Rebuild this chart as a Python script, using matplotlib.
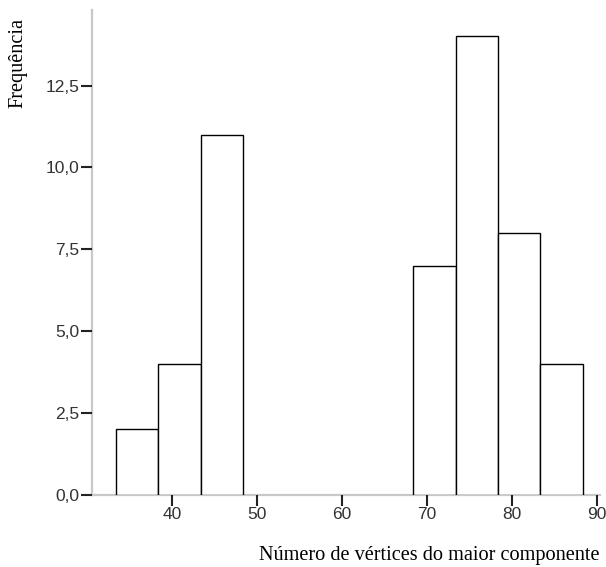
import matplotlib
matplotlib.use("Agg")
import matplotlib.pyplot as plt
from matplotlib.ticker import FuncFormatter

bin_edges = [33.4, 38.4, 43.4, 48.4, 53.4, 58.4, 63.4, 68.4, 73.4, 78.4, 83.4, 88.4]
counts = [2, 4, 11, 0, 0, 0, 0, 7, 14, 8, 4]
x_ticks = [40, 50, 60, 70, 80, 90]
y_ticks = [0.0, 2.5, 5.0, 7.5, 10.0, 12.5]

fig = plt.figure(figsize=(6.06, 5.67), dpi=100)
ax = fig.add_axes([0.152, 0.127, 0.838, 0.855])

lefts, widths, heights = [], [], []
for a, b, c in zip(bin_edges[:-1], bin_edges[1:], counts):
    if c > 0:
        lefts.append(a)
        widths.append(b - a)
        heights.append(c)
ax.bar(lefts, heights, width=widths, align="edge", facecolor="white",
       edgecolor="black", linewidth=1.0, zorder=2)

ax.set_xlim(30.6, 90.4)
ax.set_ylim(0, 14.8)
ax.set_xticks(x_ticks)
ax.set_yticks(y_ticks)
ax.yaxis.set_major_formatter(FuncFormatter(lambda v, p: f"{v:.1f}".replace(".", ",")))

for s in ["top", "right"]:
    ax.spines[s].set_visible(False)
for s in ["left", "bottom"]:
    ax.spines[s].set_color("#c8c8c8")
    ax.spines[s].set_linewidth(1.6)
    ax.spines[s].set_zorder(1)

ax.tick_params(axis="both", direction="out", length=8, width=1.5, color="#222222",
               labelsize=12.5, labelcolor="#333333", pad=1)
for lab in ax.get_xticklabels() + ax.get_yticklabels():
    lab.set_family("Liberation Sans")

ax.set_xlabel("Número de vértices do maior componente", family="Liberation Serif",
              fontsize=14.6, loc="right", labelpad=17)
ax.set_ylabel("Frequência", family="Liberation Serif", fontsize=14.6, loc="top")
ax.yaxis.set_label_coords(-0.128, 0.983)

fig.savefig("out.png", dpi=100)
